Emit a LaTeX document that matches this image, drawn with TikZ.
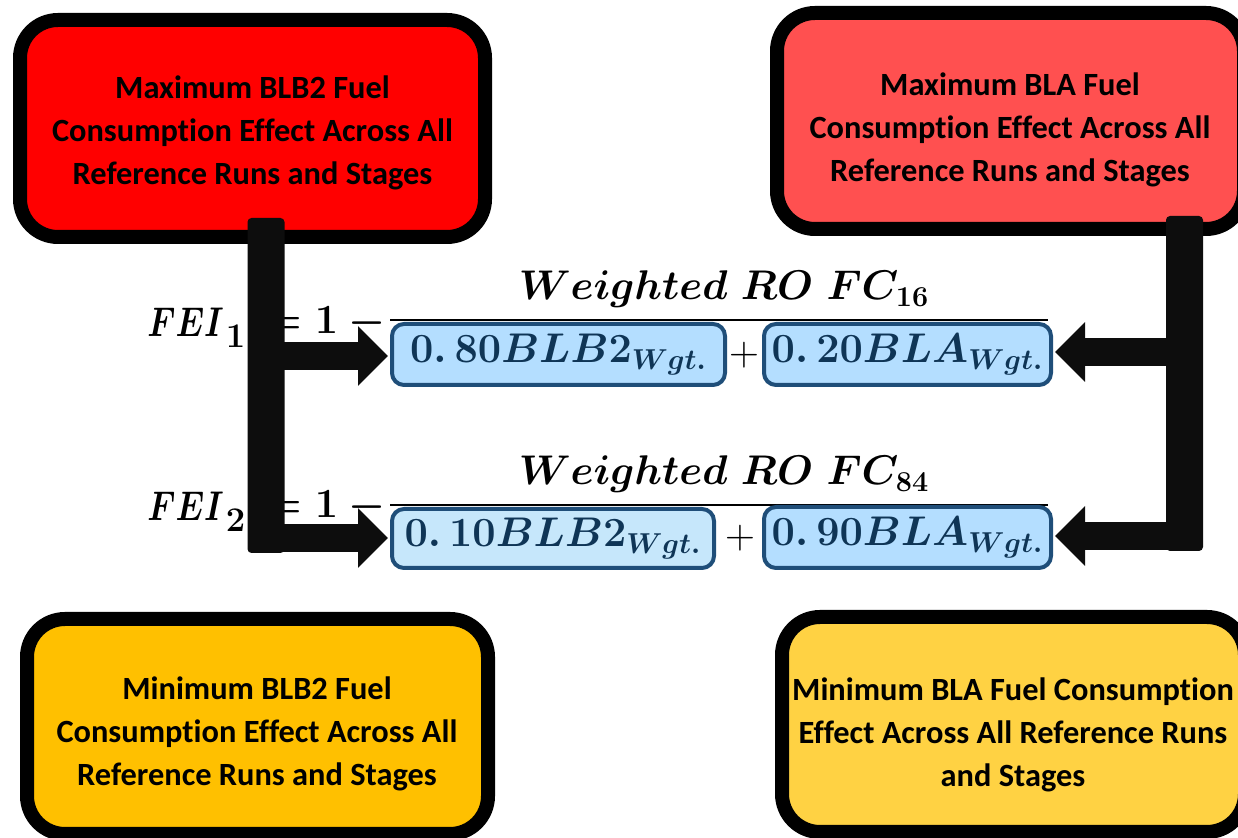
\documentclass[tikz,border=0pt]{standalone}
\usepackage[no-math]{fontspec}
\newfontfamily\boxfont[Ligatures=NoCommon]{Carlito}
\usepackage{amsmath}
\usepackage{graphicx}
\usetikzlibrary{arrows.meta}
\definecolor{tlred}{HTML}{FF0000}
\definecolor{trred}{HTML}{FF5050}
\definecolor{blgold}{HTML}{FFC000}
\definecolor{brgold}{HTML}{FFD243}
\definecolor{wfill}{HTML}{B4DEFF}
\definecolor{wfillb}{HTML}{C6E7FB}
\definecolor{wborder}{HTML}{1F4E79}
\definecolor{navy}{HTML}{0F3556}
\definecolor{barblack}{HTML}{0D0D0D}
\newcommand{\feisub}[1]{\scalebox{0.8}[1]{$FEI$}\kern1pt\raisebox{-5.5pt}{\fontsize{16}{18}\selectfont$\mathbf{#1}$}}
\tikzset{
  bigbox/.style={draw=black, line width=7pt, rounded corners=19pt, inner sep=0pt},
  boxlabel/.style={inner sep=0pt,
    font=\boxfont\bfseries\fontsize{16.2}{21.5}\selectfont, align=center, text=black},
  wbox/.style={draw=wborder, fill=wfill, line width=2pt, rounded corners=6pt, inner sep=0pt,
    text=navy, font=\fontsize{22}{26}\selectfont\boldmath},
  eqtext/.style={font=\fontsize{22}{26}\selectfont\boldmath, inner sep=0pt, text=black},
  plus/.style={font=\fontsize{20}{24}\selectfont, inner sep=0pt, text=black},
  barfill/.style={fill=barblack, rounded corners=2pt},
  fat/.style={line width=14pt, draw=barblack, -{Triangle[width=29pt,length=15pt]}, shorten >=1pt},
}
\begin{document}
\begin{tikzpicture}[x=0.5pt,y=-0.5pt]
\useasboundingbox (0,0) rectangle (1238,838);
\clip (0,0) rectangle (1238,838);

% big boxes
\node[bigbox, fill=tlred, minimum width=232.5pt, minimum height=108.5pt] (tl) at (252.5,128.5) {};
\node[boxlabel] (tltext) at (252.5,132.5)
  {Maximum BLB2 Fuel\\Consumption Effect Across All\\Reference Runs and Stages};
\node[bigbox, fill=trred, minimum width=233.5pt, minimum height=108pt] (tr) at (1010.5,121) {};
\node[boxlabel] (trtext) at (1010,129.5)
  {Maximum BLA Fuel\\Consumption Effect Across All\\Reference Runs and Stages};
\node[bigbox, fill=blgold, minimum width=230.5pt, minimum height=107.5pt] (bl) at (257.5,726.5) {};
\node[boxlabel] (bltext) at (257,733.5)
  {Minimum BLB2 Fuel\\Consumption Effect Across All\\Reference Runs and Stages};
\node[bigbox, fill=brgold, minimum width=231.5pt, minimum height=107.5pt] (br) at (1013.5,724.5) {};
\node[boxlabel] (brtext) at (1013,734.5)
  {Minimum BLA Fuel Consumption\\Effect Across All Reference Runs\\and Stages};

% equation 1
\node[eqtext, anchor=base west] (fei1) at (147,337) {\feisub{1}};
\node[eqtext, anchor=base east] (eq1) at (397,334) {$= 1 - {}$};
\node[eqtext, anchor=base] (num1) at (724,300) {$Weighted\ RO\ FC_{16}$};
\draw[line width=1pt] (390,320) -- (1048,320);
\node[wbox, minimum width=166.5pt, minimum height=30.5pt] (b1) at (558.5,354.5) {$0.\,80BLB2_{Wgt.}$};
\node[plus] (p1) at (744,355) {$+$};
\node[wbox, minimum width=143.5pt, minimum height=30.5pt] (b2) at (907.5,354.5) {$0.\,20BLA_{Wgt.}$};

% equation 2
\node[eqtext, anchor=base west] (fei2) at (147,521) {\feisub{2}};
\node[eqtext, anchor=base east] (eq2) at (397,518) {$= 1 - {}$};
\node[eqtext, anchor=base] (num2) at (724,485) {$Weighted\ RO\ FC_{84}$};
\draw[line width=1pt] (390,505) -- (1048,505);
\node[wbox, fill=wfillb, minimum width=161pt, minimum height=29.5pt] (b3) at (553,538.5) {$0.\,10BLB2_{Wgt.}$};
\node[plus] (p2) at (740,538) {$+$};
\node[wbox, minimum width=143.5pt, minimum height=30.5pt] (b4) at (907.5,537.5) {$0.\,90BLA_{Wgt.}$};

% bar coordinates
\coordinate (lbar) at (266,356);
\coordinate (lbar2) at (266,538);
\coordinate (rbar) at (1184.5,352);
\coordinate (rbar2) at (1184.5,536);

% arrows
\draw[fat] (lbar) -- (lbar -| b1.west);
\draw[fat] (lbar2) -- (lbar2 -| b3.west);
\draw[fat] (rbar) -- (rbar -| b2.east);
\draw[fat] (rbar2) -- (rbar2 -| b4.east);

% bars
\fill[barfill] (247.5,218) rectangle (284.5,553);
\fill[barfill] (1166,216) rectangle (1203,551);
\end{tikzpicture}
\end{document}
